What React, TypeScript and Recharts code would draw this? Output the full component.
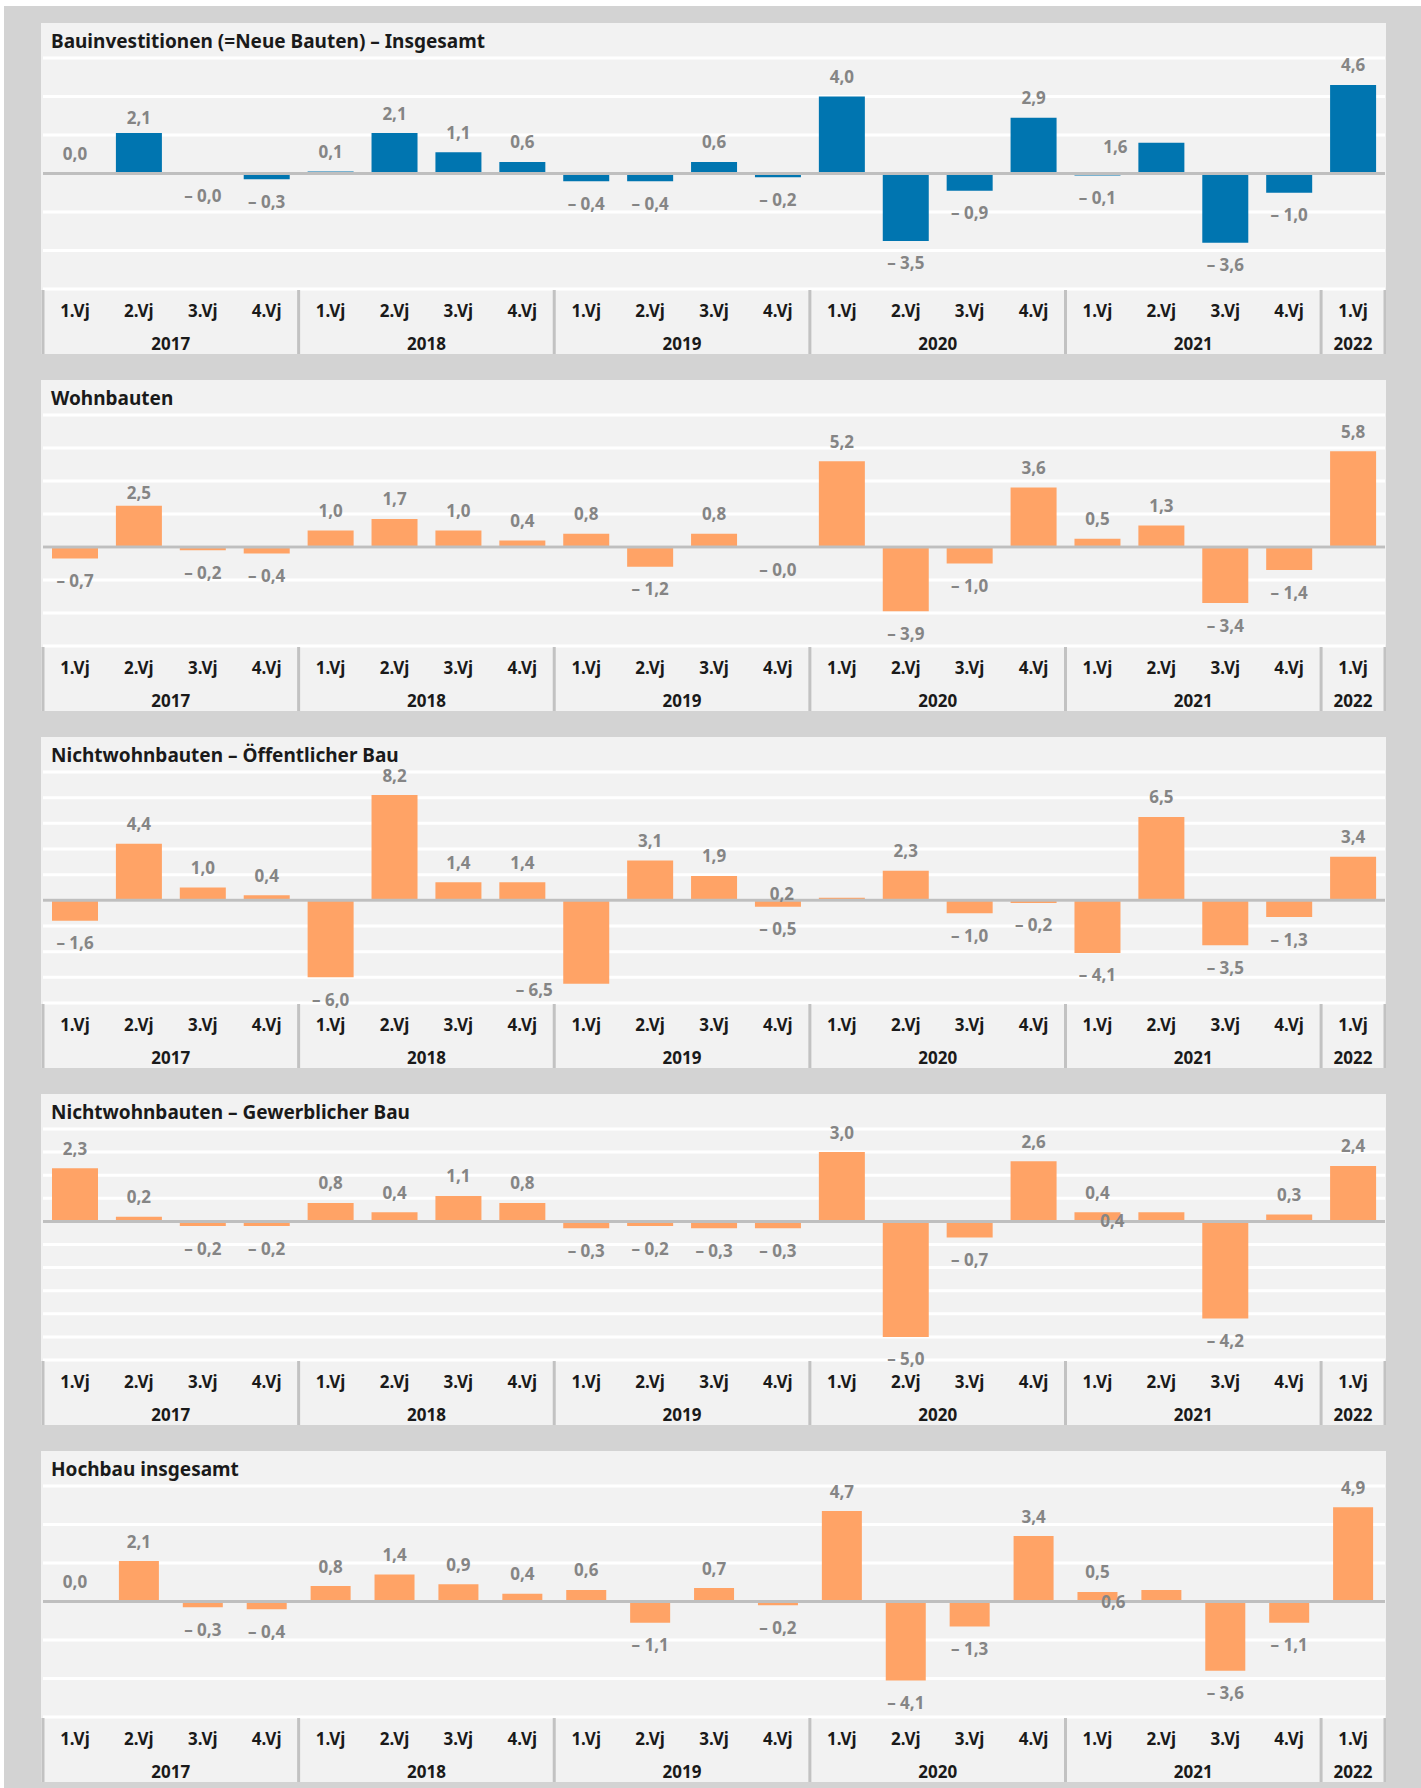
import React from "react";
import {
  BarChart,
  Bar,
  XAxis,
  YAxis,
  CartesianGrid,
  ReferenceLine,
  LabelList,
} from "recharts";

// categories
const quarters = [
  "1.Vj", "2.Vj", "3.Vj", "4.Vj",
  "1.Vj", "2.Vj", "3.Vj", "4.Vj",
  "1.Vj", "2.Vj", "3.Vj", "4.Vj",
  "1.Vj", "2.Vj", "3.Vj", "4.Vj",
  "1.Vj", "2.Vj", "3.Vj", "4.Vj",
  "1.Vj",
];
const years = ["2017", "2018", "2019", "2020", "2021", "2022"];
const quartersPerYear = [4, 4, 4, 4, 4, 1];

// series values (Veränderung gegenüber Vorquartal in %)
const bauInsgesamt = [0.0, 2.1, -0.0, -0.3, 0.1, 2.1, 1.1, 0.6, -0.4, -0.4, 0.6, -0.2, 4.0, -3.5, -0.9, 2.9, -0.1, 1.6, -3.6, -1.0, 4.6];
const wohnbauten = [-0.7, 2.5, -0.2, -0.4, 1.0, 1.7, 1.0, 0.4, 0.8, -1.2, 0.8, -0.0, 5.2, -3.9, -1.0, 3.6, 0.5, 1.3, -3.4, -1.4, 5.8];
const oeffentlich = [-1.6, 4.4, 1.0, 0.4, -6.0, 8.2, 1.4, 1.4, -6.5, 3.1, 1.9, -0.5, 0.2, 2.3, -1.0, -0.2, -4.1, 6.5, -3.5, -1.3, 3.4];
const gewerblich = [2.3, 0.2, -0.2, -0.2, 0.8, 0.4, 1.1, 0.8, -0.3, -0.2, -0.3, -0.3, 3.0, -5.0, -0.7, 2.6, 0.4, 0.4, -4.2, 0.3, 2.4];
const hochbau = [0.0, 2.1, -0.3, -0.4, 0.8, 1.4, 0.9, 0.4, 0.6, -1.1, 0.7, -0.2, 4.7, -4.1, -1.3, 3.4, 0.5, 0.6, -3.6, -1.1, 4.9];

// y axis ticks per panel
const ticks6 = [-6, -4, -2, 0, 2, 4, 6];
const ticks8 = [-6, -4, -2, 0, 2, 4, 6, 8];
const ticks10 = [-8, -6, -4, -2, 0, 2, 4, 6, 8, 10];
const ticks4 = [-6, -5, -4, -3, -2, -1, 0, 1, 2, 3, 4];

const FONT = "'Noto Sans', sans-serif";
const BLUE = "#0075b0";
const ORANGE = "#ffa366";
const PANEL_W = 1345;
const PANEL_H = 331;
const MARGIN = { top: 35, right: 1, left: 2, bottom: 0 };

// which year each category belongs to
const catInfo: { first: boolean; span: number; year: string }[] = [];
years.forEach((y, yi) => {
  for (let k = 0; k < quartersPerYear[yi]; k++) {
    catInfo.push({ first: k === 0, span: quartersPerYear[yi], year: y });
  }
});

const fmt = (v: number) => {
  const neg = v < 0 || Object.is(v, -0);
  return (neg ? "\u2013 " : "") + Math.abs(v).toFixed(1).replace(".", ",");
};

function QuarterTick(props: any) {
  const { x, y, payload } = props;
  const i = payload.index ?? props.index;
  const half = payload.offset || (PANEL_W - 3) / quarters.length / 2;
  const info = catInfo[i];
  const sep = "#c2c2c2";
  return (
    <g>
      <text
        x={x}
        y={y + 21}
        textAnchor="middle"
        dominantBaseline="central"
        fontFamily={FONT}
        fontWeight={700}
        fontSize={17}
        fill="#1a1a1a"
      >
        {payload.value}
      </text>
      {info && info.first && (
        <>
          <line x1={x - half} x2={x - half} y1={y + 1} y2={y + 65} stroke={sep} strokeWidth={3} />
          <text
            x={x - half + info.span * half}
            y={y + 54}
            textAnchor="middle"
            dominantBaseline="central"
            fontFamily={FONT}
            fontWeight={700}
            fontSize={17}
            fill="#1a1a1a"
          >
            {info.year}
          </text>
        </>
      )}
      {i === quarters.length - 1 && (
        <line x1={x + half} x2={x + half} y1={y + 1} y2={y + 65} stroke={sep} strokeWidth={3} />
      )}
    </g>
  );
}

function makeLabel(vals: number[], shifts: Record<number, [number, number]>) {
  return (props: any) => {
    const vb = props.viewBox ?? props;
    const x = Number(vb.x);
    const y = Number(vb.y);
    const w = Number(vb.width);
    const h = Number(vb.height);
    const i = Number(props.value);
    const v = vals[i];
    if (v === undefined) return null;
    const neg = v < 0 || Object.is(v, -0);
    const top = Math.min(y, y + h);
    const bottom = Math.max(y, y + h);
    const [dx, dy] = shifts[i] ?? [0, 0];
    const cy = neg ? bottom + 22 : top - 20;
    return (
      <text
        key={`lbl-${i}`}
        x={x + w / 2 + dx}
        y={cy + dy}
        textAnchor="middle"
        dominantBaseline="central"
        fontFamily={FONT}
        fontWeight={700}
        fontSize={17}
        fill="#858585"
      >
        {fmt(v)}
      </text>
    );
  };
}

interface PanelProps {
  title: string;
  values: number[];
  ticks: number[];
  color: string;
  barSize: number;
  top: number;
  shifts?: Record<number, [number, number]>;
}

function Panel({ title, values, ticks, color, barSize, top, shifts = {} }: PanelProps) {
  const data = quarters.map((q, i) => ({ q, v: values[i], i }));
  return (
    <div
      style={{
        position: "absolute",
        left: 41,
        top,
        width: PANEL_W,
        height: PANEL_H,
        background: "#f2f2f2",
      }}
    >
      <div
        style={{
          position: "absolute",
          left: 10,
          top: 7,
          fontFamily: FONT,
          fontWeight: 700,
          fontSize: 19,
          lineHeight: "22px",
          color: "#1a1a1a",
          whiteSpace: "nowrap",
        }}
      >
        {title}
      </div>
      <BarChart
        width={PANEL_W}
        height={PANEL_H}
        data={data}
        margin={MARGIN}
        style={{ position: "absolute", left: 0, top: 0 }}
      >
        <CartesianGrid vertical={false} stroke="#ffffff" strokeWidth={3} />
        <XAxis
          dataKey="q"
          interval={0}
          height={65}
          tickLine={false}
          axisLine={false}
          tickSize={0}
          tickMargin={0}
          tick={<QuarterTick />}
        />
        <YAxis hide domain={[ticks[0], ticks[ticks.length - 1]]} ticks={ticks} />
        <Bar
          dataKey="v"
          fill={color}
          barSize={barSize}
          minPointSize={0.5}
          isAnimationActive={false}
        >
          <LabelList dataKey="i" content={makeLabel(values, shifts)} />
        </Bar>
        <ReferenceLine y={0} stroke="#bfbfbf" strokeWidth={3} />
      </BarChart>
    </div>
  );
}

export default function App() {
  return (
    <div
      style={{
        position: "absolute",
        left: 0,
        top: 0,
        width: 1421,
        height: 1788,
        background: "#ffffff",
      }}
    >
      <div
        style={{
          position: "absolute",
          left: 4,
          top: 6,
          width: 1417,
          height: 1782,
          background: "#d3d3d3",
        }}
      />
      <Panel
        title="Bauinvestitionen (=Neue Bauten) – Insgesamt"
        values={bauInsgesamt}
        ticks={ticks6}
        color={BLUE}
        barSize={46}
        top={23}
        shifts={{ 1: [0, 4], 17: [-46, 24] }}
      />
      <Panel
        title="Wohnbauten"
        values={wohnbauten}
        ticks={ticks8}
        color={ORANGE}
        barSize={46}
        top={380}
        shifts={{ 1: [0, 7] }}
      />
      <Panel
        title="Nichtwohnbauten – Öffentlicher Bau"
        values={oeffentlich}
        ticks={ticks10}
        color={ORANGE}
        barSize={46}
        top={737}
        shifts={{ 8: [-52, -16], 12: [-60, 16] }}
      />
      <Panel
        title="Nichtwohnbauten – Gewerblicher Bau"
        values={gewerblich}
        ticks={ticks4}
        color={ORANGE}
        barSize={46}
        top={1094}
        shifts={{ 17: [-49, 28] }}
      />
      <Panel
        title="Hochbau insgesamt"
        values={hochbau}
        ticks={ticks6}
        color={ORANGE}
        barSize={40}
        top={1451}
        shifts={{ 17: [-48, 32] }}
      />
    </div>
  );
}
